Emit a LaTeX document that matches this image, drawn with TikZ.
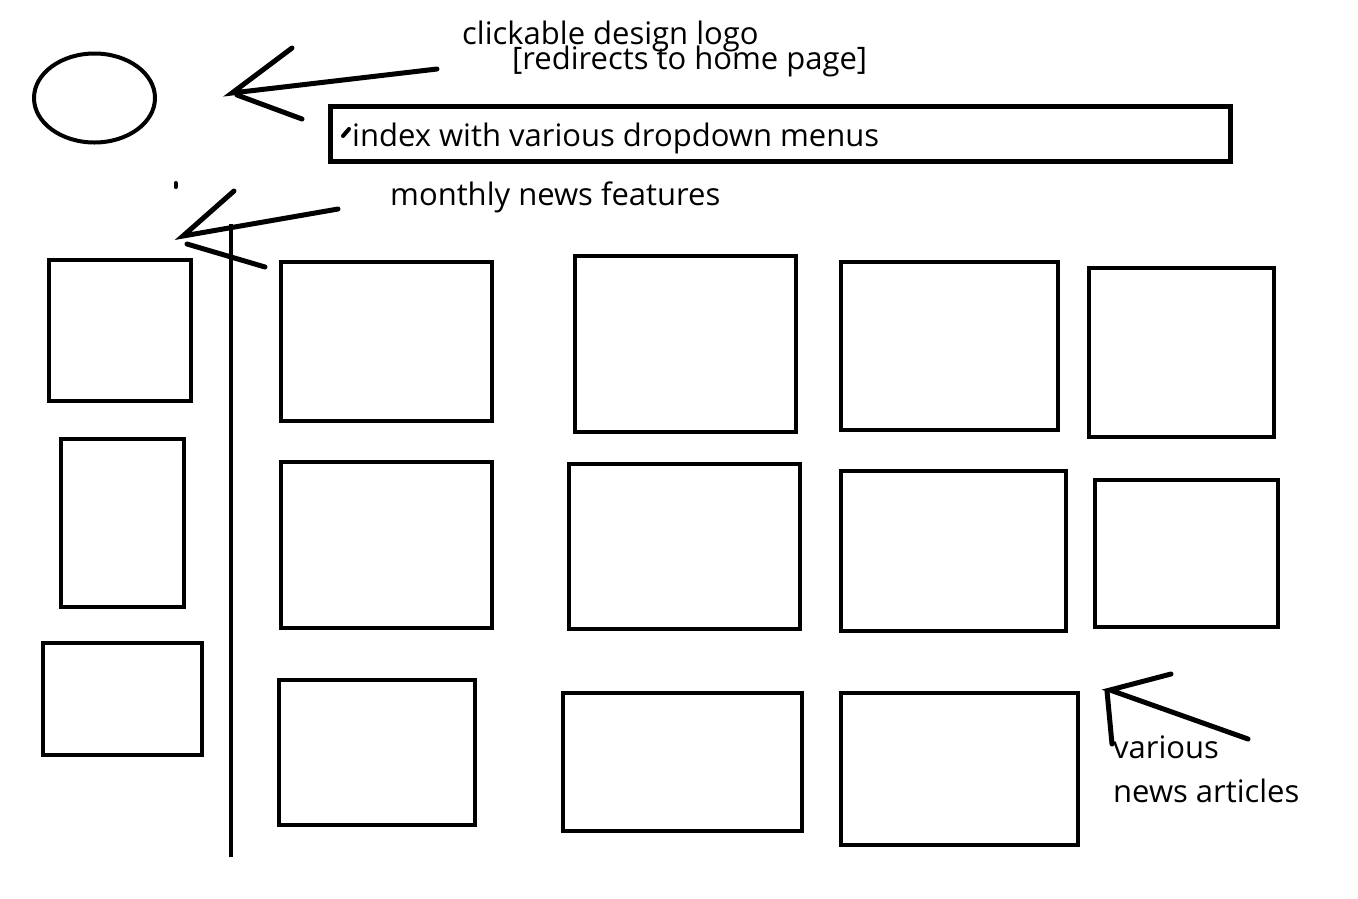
\documentclass[tikz,border=0pt]{standalone}
\usepackage{fontspec}
\setmainfont{Open Sans}
\usetikzlibrary{shapes.geometric}
\begin{document}
\begin{tikzpicture}[x=1pt,y=-1pt,
  stroke/.style={line width=5pt,line cap=round},
  frame/.style={line width=4pt},
  label/.style={anchor=base west,inner sep=0pt,font=\fontsize{31}{34}\selectfont}]
\useasboundingbox[fill=white] (0,0) rectangle (1358,898);

% logo
\node[draw,ellipse,line width=4pt,minimum width=121pt,minimum height=89pt,inner sep=0pt] (logo) at (94.5,98) {};

% navigation bar
\node[draw,line width=5pt,minimum width=900pt,minimum height=55pt,inner sep=0pt,outer sep=0pt] (nav) at (780,133.5) {};
\coordinate (tickA) at (343,136);
\coordinate (tickB) at (349,129);
\draw[line width=4pt,line cap=round] (tickA) -- (tickB);

% captions
\node[label] (logotext) at (462,44.5) {clickable design logo};
\node[label] (logonote) at (512,69.5) {[redirects to home page]};
\node[label] (navtext) at (352,146) {index with various dropdown menus};
\node[label] (featuretext) at (390,205.5) {monthly news features};
\node[label] (articletext1) at (1113,758.5) {various};
\node[label] (articletext2) at (1113,802.5) {news articles};

% arrow to logo
\coordinate (a1tail) at (437,69);
\coordinate (a1tip) at (232,93);
\coordinate (a1up) at (292,48);
\coordinate (a1foot) at (237,95);
\coordinate (a1down) at (302,119);
\draw[stroke] (a1tail) -- (a1tip) -- (a1up);
\draw[stroke] (a1foot) -- (a1down);

% stray dot
\coordinate (dotA) at (175.5,183);
\coordinate (dotB) at (175.5,187);
\draw[line width=4pt,line cap=round] (dotA) -- (dotB);

% arrow to features column
\coordinate (a2tail) at (338,209);
\coordinate (a2tip) at (183,236);
\coordinate (a2up) at (234,191);
\coordinate (a2foot) at (187,244);
\coordinate (a2down) at (265,267);
\draw[stroke] (a2tail) -- (a2tip) -- (a2up);
\draw[stroke] (a2foot) -- (a2down);

% column divider
\coordinate (divtop) at (231,224);
\coordinate (divbot) at (231,857);
\draw[line width=4pt] (divtop) -- (divbot);

% monthly features column
\draw[frame] (49,260) rectangle (191,401) node[pos=.5] (f1) {};
\draw[frame] (61,439) rectangle (184,607) node[pos=.5] (f2) {};
\draw[frame] (43,643) rectangle (202,755) node[pos=.5] (f3) {};

% news article grid
\draw[frame] (281,262) rectangle (492,421) node[pos=.5] (n11) {};
\draw[frame] (575,256) rectangle (796,432) node[pos=.5] (n12) {};
\draw[frame] (841,262) rectangle (1058,430) node[pos=.5] (n13) {};
\draw[frame] (1089,268) rectangle (1274,437) node[pos=.5] (n14) {};

\draw[frame] (281,462) rectangle (492,628) node[pos=.5] (n21) {};
\draw[frame] (569,464) rectangle (800,629) node[pos=.5] (n22) {};
\draw[frame] (841,471) rectangle (1066,631) node[pos=.5] (n23) {};
\draw[frame] (1095,480) rectangle (1278,627) node[pos=.5] (n24) {};

\draw[frame] (279,680) rectangle (475,825) node[pos=.5] (n31) {};
\draw[frame] (563,693) rectangle (802,831) node[pos=.5] (n32) {};
\draw[frame] (841,693) rectangle (1078,845) node[pos=.5] (n33) {};

% arrow to articles
\coordinate (a3tail) at (1248,739);
\coordinate (a3tip) at (1110,690);
\coordinate (a3up) at (1171,674);
\coordinate (a3foot) at (1107,691);
\coordinate (a3down) at (1112,744);
\draw[stroke] (a3tail) -- (a3tip) -- (a3up);
\draw[stroke] (a3foot) -- (a3down);
\end{tikzpicture}
\end{document}
